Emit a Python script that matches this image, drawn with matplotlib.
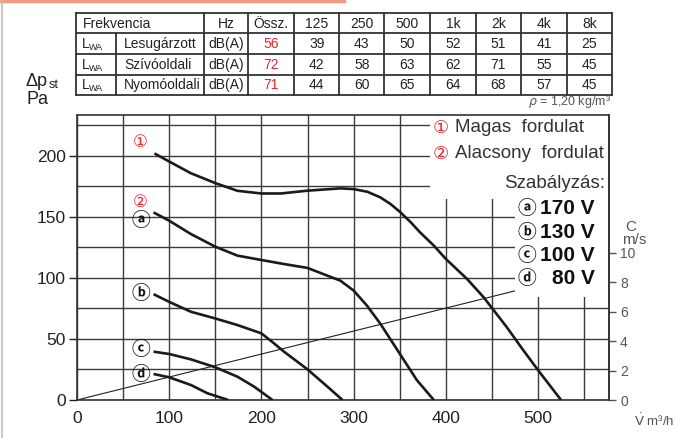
import matplotlib
matplotlib.use("Agg")
import matplotlib.pyplot as plt
from matplotlib.patches import Rectangle
from matplotlib.lines import Line2D

# ---------------- data ----------------
freq_labels = ['125', '250', '500', '1k', '2k', '4k', '8k']
row_names = ['Lesugárzott', 'Szívóoldali', 'Nyomóoldali']
row_totals = [56, 72, 71]
lesugarzott = [39, 43, 50, 52, 51, 41, 25]
szivooldali = [42, 58, 63, 62, 71, 55, 45]
nyomooldali = [44, 60, 65, 64, 68, 57, 45]

# curve 1 (Magas fordulat)
v1 = [84, 100, 123.5, 150, 174, 200, 221, 250, 265, 286, 300, 315, 329, 340, 350, 362, 372, 387, 400, 423, 441, 466, 484, 500, 525]
p1 = [202, 195.4, 185.8, 177.7, 171.4, 169.2, 169.2, 171.5, 172.3, 173.4, 172.8, 170.6, 166, 160.6, 154.3, 145.6, 137.4, 126.5, 115.6, 99.2, 84.2, 59.8, 40.8, 24.5, 0]
# curve 2 / a (Alacsony fordulat, 170 V)
va = [83, 100, 123.5, 150, 174, 200, 224.5, 250, 271.5, 285.6, 300, 314.4, 329, 350, 368.6, 387]
pa = [153.7, 146.9, 136, 125.6, 118.3, 114.7, 111.4, 108.2, 101.9, 97.8, 89.7, 77.4, 62.5, 38, 16.3, 0]
# curve b (130 V)
vb = [83, 100, 123.5, 150, 174, 200, 213.7, 224.5, 250, 271.5, 288]
pb = [86.7, 80.4, 72.3, 66.8, 61.4, 54.6, 46.4, 39.6, 25.1, 11, 0]
# curve c (100 V)
vc = [83, 100, 123.5, 150, 174, 192, 212]
pc = [39.6, 37.7, 33.3, 26.8, 19.1, 11, 0]
# curve d (80 V)
vd = [83, 100, 123.5, 141.5, 164]
pd = [21.3, 18.6, 12.3, 5.5, 0]
# velocity line (through origin)
v_line = [0, 577]
p_line = [0, 108.6]

x_major = [0, 100, 200, 300, 400, 500]
x_minor = [50, 150, 250, 350, 450, 550]
y_major = [0, 50, 100, 150, 200]
y_minor = [25, 75, 125, 175, 225]
c_ticks = [0, 2, 4, 6, 8, 10]

# ---------------- figure ----------------
W, H = 677, 438
fig = plt.figure(figsize=(W / 100, H / 100), dpi=100)
fig.patch.set_facecolor('white')

L, R, B, T = 77, 609, 400, 115
ax = fig.add_axes([L / W, 1 - B / H, (R - L) / W, (B - T) / H])
XMAX, YMAX = 577, 233.5
ax.set_xlim(0, XMAX)
ax.set_ylim(0, YMAX)

grid_c = '#3a3a3a'
ax.set_xticks(x_major)
ax.set_xticks(x_minor, minor=True)
ax.set_yticks(y_major)
ax.set_yticks(y_minor, minor=True)
ax.grid(True, which='both', color=grid_c, lw=1.0)
ax.set_axisbelow(True)
ax.tick_params(axis='x', which='both', length=0, labelsize=12.5, pad=8, colors='#222222')
ax.tick_params(axis='y', which='major', length=6, width=1, direction='out', labelsize=12.5, pad=2, colors='#222222')
ax.tick_params(axis='y', which='minor', length=0)
for lab in ax.get_xticklabels() + ax.get_yticklabels():
    lab.set_family(['Liberation Sans', 'DejaVu Sans'])
for s in ax.spines.values():
    s.set_color('#333333')
    s.set_linewidth(1.2)

# velocity line (behind the white legend boxes)
ax.plot(v_line, p_line, color='#222222', lw=0.8, zorder=0.9)

# white legend boxes
ax.add_patch(Rectangle((383, 165), XMAX - 383, YMAX - 165, facecolor='white', edgecolor='none', zorder=1.2))
ax.add_patch(Rectangle((475, 84.5), XMAX - 475, 81, facecolor='white', edgecolor='none', zorder=1.2))

curve_kw = dict(color='#1a1a1a', lw=1.9, zorder=3, solid_capstyle='butt', solid_joinstyle='round')
for vv, pp in [(v1, p1), (va, pa), (vb, pb), (vc, pc), (vd, pd)]:
    ax.plot(vv, pp, **curve_kw)

red = '#e8242e'
circ_fam = ['Noto Sans CJK JP', 'DejaVu Sans']
ax.text(69, 211, '①', color=red, fontsize=12, ha='center', va='center', family='DejaVu Sans', zorder=4)
ax.text(69, 162, '②', color=red, fontsize=12, ha='center', va='center', family='DejaVu Sans', zorder=4)
for (lx, ly, ch) in [(69, 147, 'ⓐ'), (69, 87, 'ⓑ'), (69, 41, 'ⓒ'), (69, 20.5, 'ⓓ')]:
    ax.text(lx, ly, ch, color='#111111', fontsize=13.5, ha='center', va='center',
            family=circ_fam, fontweight='bold', zorder=4)

# secondary axis C m/s
ax2 = ax.twinx()
ax2.set_ylim(0, YMAX / 12.08)
ax2.set_yticks(c_ticks)
ax2.tick_params(axis='y', length=5, width=1, colors='#555555', labelsize=10, pad=3)
for lab in ax2.get_yticklabels():
    lab.set_family(['Liberation Sans', 'DejaVu Sans'])
for k, s in ax2.spines.items():
    s.set_visible(k == 'right')
ax2.spines['right'].set_color('#333333')
ax2.spines['right'].set_linewidth(1.2)

# ---------------- overlay for text / table in pixel coords ----------------
ov = fig.add_axes([0, 0, 1, 1], zorder=10)
ov.set_xlim(0, W)
ov.set_ylim(H, 0)
ov.axis('off')
ov.patch.set_alpha(0)

narrow = ['Liberation Sans Narrow', 'Liberation Sans', 'DejaVu Sans']
sans = ['Liberation Sans', 'DejaVu Sans']
dark = '#222222'
gray = '#555555'

# decorations
ov.add_line(Line2D([0, 344], [1.2, 1.2], color='#f29a80', lw=2.5))
ov.add_line(Line2D([1.5, 1.5], [0, H], color='#bdbdbd', lw=1.2))

# table
cols = [76, 115.7, 204, 248.3, 294, 339.3, 384.3, 430, 475.7, 521, 566.7, 612]
rows = [12.7, 33.3, 54, 74.7, 95]
tl = dict(color='#333333', lw=1.3)
for y in rows:
    ov.add_line(Line2D([cols[0], cols[-1]], [y, y], **tl))
for i, x in enumerate(cols):
    y0 = rows[1] if i == 1 else rows[0]
    ov.add_line(Line2D([x, x], [y0, rows[-1]], **tl))

fs_t = 10
def cc(i):
    return (cols[i] + cols[i + 1]) / 2
def rc(j):
    return (rows[j] + rows[j + 1]) / 2 + 0.5

ov.text(83, rc(0), 'Frekvencia', family=narrow, fontsize=fs_t, color=dark, va='center', ha='left')
ov.text(cc(2), rc(0), 'Hz', family=narrow, fontsize=fs_t, color=dark, va='center', ha='center')
ov.text(cc(3), rc(0), 'Össz.', family=narrow, fontsize=fs_t, color=dark, va='center', ha='center')
for k, f in enumerate(freq_labels):
    ov.text(cc(4 + k), rc(0), f, family=narrow, fontsize=fs_t, color=dark, va='center', ha='center')

band_rows = [lesugarzott, szivooldali, nyomooldali]
for j in range(3):
    yc = rc(j + 1)
    ov.text(82, yc, 'L', family=narrow, fontsize=fs_t, color=dark, va='center', ha='left')
    ov.text(89, yc + 3.5, 'WA', family=narrow, fontsize=6.5, color=dark, va='center', ha='left')
    ov.text(124, yc, row_names[j], family=narrow, fontsize=fs_t, color=dark, va='center', ha='left')
    ov.text(cc(2), yc, 'dB(A)', family=narrow, fontsize=fs_t, color=dark, va='center', ha='center')
    ov.text(cc(3), yc, str(row_totals[j]), family=narrow, fontsize=fs_t, color=red, va='center', ha='center')
    for k, v in enumerate(band_rows[j]):
        ov.text(cc(4 + k), yc, str(v), family=narrow, fontsize=fs_t, color=dark, va='center', ha='center')

# density
ov.text(611, 101, r'$\rho$ = 1,20 kg/m³', family=sans, fontsize=9, color=gray, va='center', ha='right')

# left axis label
ov.text(26, 81, 'Δp', family=sans, fontsize=13, color=dark, va='center', ha='left')
ov.text(49, 85, 'st', family=sans, fontsize=9, color=dark, va='center', ha='left')
ov.text(26, 100, 'Pa', family=sans, fontsize=13, color=dark, va='center', ha='left')

# right axis label
ov.text(625, 227, 'C', family=sans, fontsize=11, color=gray, va='center', ha='left')
ov.text(622, 240, 'm/s', family=sans, fontsize=11, color=gray, va='center', ha='left')

# bottom-right axis label
ov.text(674, 421, r'$\dot{\mathrm{V}}$ m³/h', family=sans, fontsize=9.5, color=gray, va='center', ha='right')

# legend (upper)
ov.text(441, 128, '①', family='DejaVu Sans', fontsize=13, color=red, va='center', ha='center')
ov.text(455, 128, 'Magas  fordulat', family=sans, fontsize=13.5, color='#333333', va='center', ha='left')
ov.text(441, 154, '②', family='DejaVu Sans', fontsize=13, color=red, va='center', ha='center')
ov.text(455, 154, 'Alacsony  fordulat', family=sans, fontsize=13.5, color='#333333', va='center', ha='left')
ov.text(605, 183, 'Szabályzás:', family=sans, fontsize=13.5, color='#333333', va='center', ha='right')

# legend (lower)
reg_letters = ['ⓐ', 'ⓑ', 'ⓒ', 'ⓓ']
reg_volts = ['170 V', '130 V', '100 V', '80 V']
reg_y = [208, 232, 255.5, 279]
for ch, vt, yy in zip(reg_letters, reg_volts, reg_y):
    ov.text(527, yy, ch, family=circ_fam, fontweight='bold', fontsize=13.5, color='#111111', va='center', ha='center')
    ov.text(595, yy, vt, family=narrow, fontweight='bold', fontsize=15, color='#111111', va='center', ha='right')

fig.savefig('out.png', dpi=100, facecolor='white')
